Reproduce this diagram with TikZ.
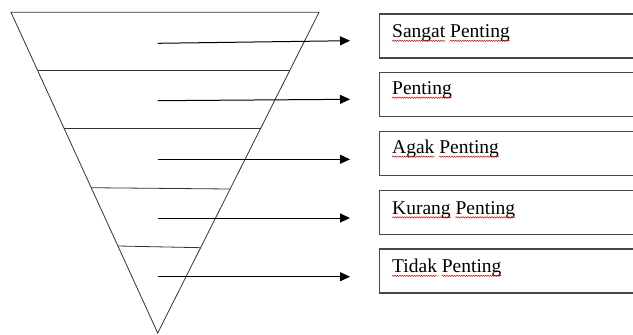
\documentclass[tikz,border=0pt]{standalone}
\usepackage{fontspec}
\setmainfont{Liberation Serif}
\usetikzlibrary{arrows.meta,decorations.pathmorphing,calc}

\tikzset{
  x=1pt, y=-1pt,
  funnel/.style={line width=0.8pt, draw=black!80},
  pointer/.style={line width=1pt, draw=black, -{Triangle[length=10pt,width=9pt]}},
  levelbox/.style={draw=black!72, line width=1.3pt, minimum width=300pt,
                   minimum height=44pt, anchor=north west, inner sep=0pt},
  word/.style={anchor=base west, inner sep=0pt, text=black,
               font=\fontsize{19.5}{23}\selectfont},
  spell/.style={draw=red!80!black, line width=0.45pt, decorate,
                decoration={snake, amplitude=0.7pt, segment length=2.4pt}},
}
% wavy spell-check line under a word node
\newcommand\squiggle[1]{\draw[spell] ($(#1.base west)+(0,3)$) -- ($(#1.base east)+(0,3)$);}

\begin{document}
\begin{tikzpicture}
  \clip (0,0) rectangle (633,335);
  \fill[white] (0,0) rectangle (633,335);

  % inverted triangle
  \coordinate (L) at (11,12.3);
  \coordinate (R) at (319,12.3);
  \coordinate (A) at (157.7,333);
  \draw[funnel, line join=miter] (L) -- (R) -- (A) -- cycle;

  % dividing lines between the levels
  \coordinate (l1) at ($(L)!0.1809!(A)$); \coordinate (r1) at ($(R)!0.1809!(A)$);
  \coordinate (l2) at ($(L)!0.3630!(A)$); \coordinate (r2) at ($(R)!0.3630!(A)$);
  \coordinate (l3) at ($(L)!0.5470!(A)$); \coordinate (r3) at ($(R)!0.5510!(A)$);
  \coordinate (l4) at ($(L)!0.7287!(A)$); \coordinate (r4) at ($(R)!0.7340!(A)$);
  \draw[funnel] (l1) -- (r1);
  \draw[funnel] (l2) -- (r2);
  \draw[funnel] (l3) -- (r3);
  \draw[funnel] (l4) -- (r4);

  % label boxes (running off to the right)
  \node[levelbox] (b1) at (379,13.3)  {};
  \node[levelbox] (b2) at (379,71.7)  {};
  \node[levelbox] (b3) at (379,130.7) {};
  \node[levelbox] (b4) at (379,190)   {};
  \node[levelbox] (b5) at (379,248.3) {};

  % labels
  \node[word] (t1a) at ($(b1.north west)+(13,24.5)$) {Sangat};
  \node[word] (t1b) at ($(t1a.base east)+(4.5,0)$) {Penting};
  \node[word] (t2a) at ($(b2.north west)+(13,23)$) {Penting};
  \node[word] (t3a) at ($(b3.north west)+(13,23)$) {Agak};
  \node[word] (t3b) at ($(t3a.base east)+(4.5,0)$) {Penting};
  \node[word] (t4a) at ($(b4.north west)+(13,24.3)$) {Kurang};
  \node[word] (t4b) at ($(t4a.base east)+(4.5,0)$) {Penting};
  \node[word] (t5a) at ($(b5.north west)+(13,24.5)$) {Tidak};
  \node[word] (t5b) at ($(t5a.base east)+(4.5,0)$) {Penting};
  \squiggle{t1a}\squiggle{t1b}
  \squiggle{t2a}
  \squiggle{t3a}\squiggle{t3b}
  \squiggle{t4a}\squiggle{t4b}
  \squiggle{t5a}\squiggle{t5b}

  % arrows from the levels towards the boxes
  \coordinate (s1) at (157.7,43.3);  \coordinate (e1) at (350,40.7);
  \coordinate (s2) at (157.7,100.7); \coordinate (e2) at (350,99.3);
  \coordinate (s3) at (157.7,159.3); \coordinate (e3) at (350,159.3);
  \coordinate (s4) at (157.7,218);   \coordinate (e4) at (350,218);
  \coordinate (s5) at (157.7,276.7); \coordinate (e5) at (350,276.7);
  \draw[pointer] (s1) -- (e1);
  \draw[pointer] (s2) -- (e2);
  \draw[pointer] (s3) -- (e3);
  \draw[pointer] (s4) -- (e4);
  \draw[pointer] (s5) -- (e5);
\end{tikzpicture}
\end{document}
